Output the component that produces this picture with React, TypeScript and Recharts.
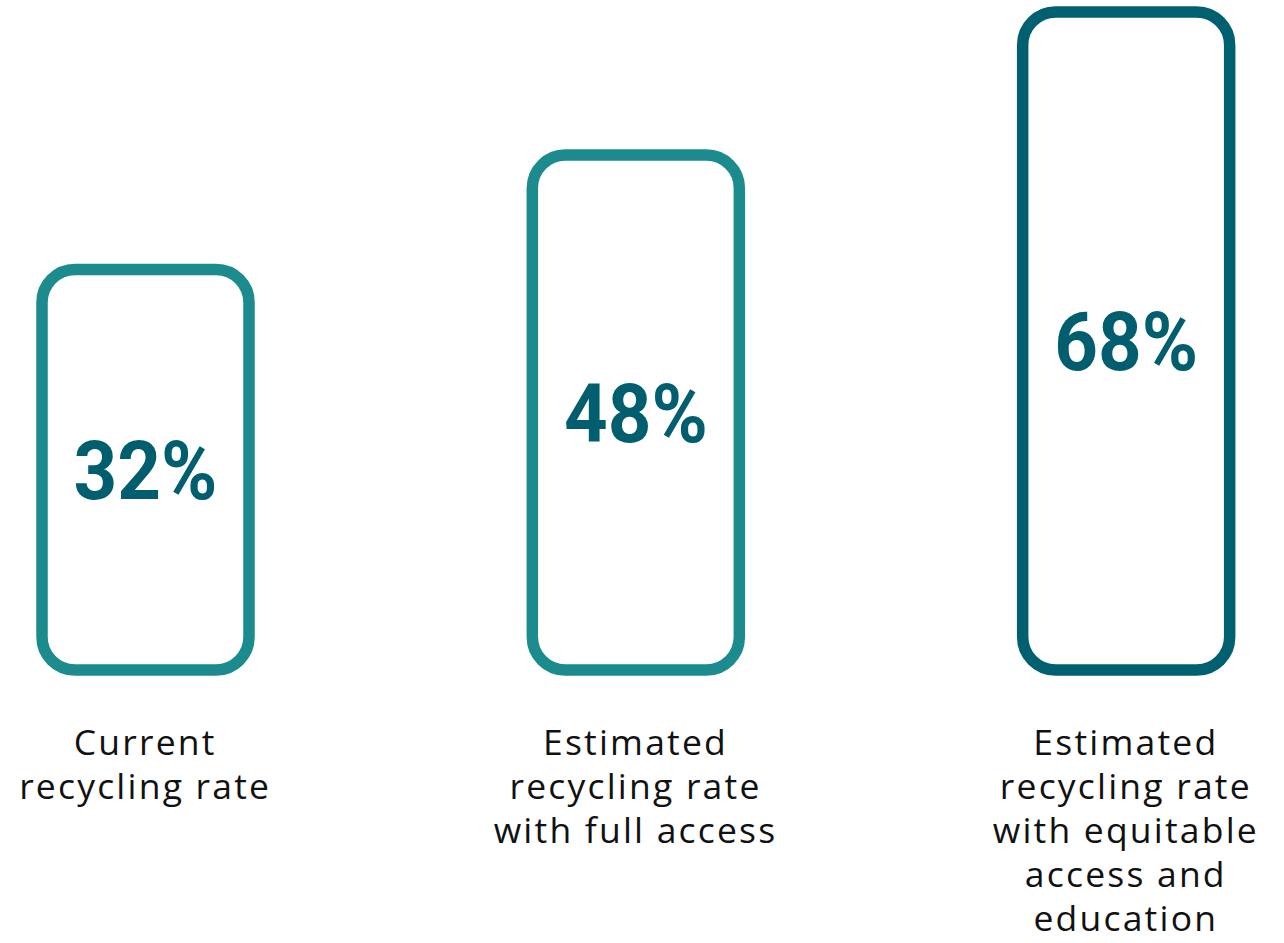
import React from 'react';
import { BarChart, Bar, XAxis, YAxis, LabelList } from 'recharts';

// categories and values
const categories = [
  'Current\nrecycling rate',
  'Estimated\nrecycling rate\nwith full access',
  'Estimated\nrecycling rate\nwith equitable\naccess and\neducation',
];
const rates = [32, 48, 68];
const barColors = ['#1c8b8d', '#1c8b8d', '#00606f'];

// the bars do not start at zero in the original, they share a lower floor
const axisFloor = -24;
const axisTop = 68;

const data = categories.map((name, i) => ({
  name,
  rate: rates[i],
  label: `${rates[i]}%`,
}));

const OutlineBar = (props: any) => {
  const { x, y, width, height, index } = props;
  return (
    <rect
      x={x}
      y={y}
      width={width}
      height={height}
      rx={33}
      ry={33}
      fill="none"
      stroke={barColors[index]}
      strokeWidth={11.5}
    />
  );
};

const CategoryTick = (props: any) => {
  const { x, y, payload } = props;
  const lines = String(payload.value).split('\n');
  return (
    <text
      x={x}
      y={y}
      textAnchor="middle"
      fill="#111"
      fontFamily="'Open Sans', sans-serif"
      fontSize={35.5}
      letterSpacing={2.2}
    >
      {lines.map((line, i) => (
        <tspan key={i} x={x} dy={i === 0 ? 85 : 44}>
          {line}
        </tspan>
      ))}
    </text>
  );
};

// condensed bold look: Roboto Bold squeezed horizontally
const ValueLabel = (props: any) => {
  const { x, y, width, height, value } = props;
  const cx = x + width / 2;
  const base = y + height / 2 + 29;
  return (
    <text
      transform={`translate(${cx}, ${base}) scale(0.93, 1)`}
      x={0}
      y={0}
      textAnchor="middle"
      fill="#005e6e"
      fontFamily="Roboto, sans-serif"
      fontWeight="bold"
      fontSize={82}
    >
      {value}
    </text>
  );
};

export default function App() {
  return (
    <div style={{ position: 'absolute', left: 0, top: 0, width: 1284, height: 943, background: '#fff' }}>
      <BarChart
        width={1284}
        height={943}
        data={data}
        margin={{ top: 12, right: -87, bottom: 0, left: -100 }}
      >
        <XAxis
          dataKey="name"
          axisLine={false}
          tickLine={false}
          tickSize={0}
          tickMargin={0}
          height={273}
          interval={0}
          tick={<CategoryTick />}
        />
        <YAxis hide domain={[axisFloor, axisTop]} />
        <Bar
          dataKey={(d: any) => [axisFloor, d.rate]}
          barSize={207}
          shape={<OutlineBar />}
          isAnimationActive={false}
        >
          <LabelList dataKey="label" content={<ValueLabel />} />
        </Bar>
      </BarChart>
    </div>
  );
}
